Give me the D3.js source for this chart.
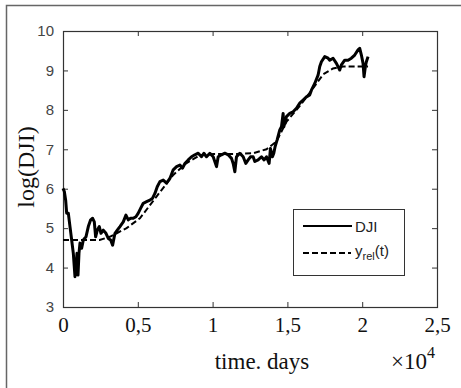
<!DOCTYPE html>
<html>
<head>
<meta charset="utf-8">
<script src="https://cdn.jsdelivr.net/npm/d3@7"></script>
<style>
  body { margin: 0; background: #fff; }
  svg { display: block; }
</style>
</head>
<body>
<svg id="chart" width="461" height="388"></svg>
<script>
// DJI log values (days, log value)
const djiDays = [0, 89, 178, 245, 356, 467, 579, 690, 801, 868, 935, 1002, 1068, 1135, 1247, 1358, 1536, 1692, 1848, 1981,
  2092, 2181, 2293, 2426, 2538, 2693, 2872, 3027, 3183, 3317, 3473, 3628, 3806, 4029, 4207, 4363, 4519, 4697, 4875, 5031,
  5187, 5365, 5587, 5810, 5988, 6144, 6300, 6478, 6700, 6923, 7146, 7368, 7591, 7813, 7991, 8147, 8370, 8592, 8815, 9038,
  9260, 9416, 9594, 9817, 10039, 10262, 10373, 10596, 10818, 11041, 11264, 11375, 11486, 11597, 11820, 12043, 12221, 12377, 12532, 12710,
  12822, 13044, 13267, 13445, 13601, 13779, 13868, 14002, 14091, 14180, 14313, 14491, 14603, 14714, 14759, 14937, 15159, 15382, 15605, 15827,
  16050, 16272, 16495, 16606, 16829, 17051, 17163, 17274, 17497, 17719, 17831, 18053, 18276, 18498, 18609, 18832, 19055, 19277, 19500, 19722,
  19834, 19945, 20057, 20123, 20212, 20279, 20391];
const djiValues = [6.01, 5.93, 5.71, 5.38, 5.38, 5.04, 4.70, 4.36, 3.77, 4.02, 4.36, 3.81, 4.36, 4.62, 4.49, 4.70, 4.78, 5.04, 5.21, 5.25,
  5.16, 4.78, 4.95, 5.04, 4.87, 4.95, 4.87, 4.74, 4.70, 4.57, 4.87, 4.95, 5.04, 5.16, 5.33, 5.21, 5.25, 5.25, 5.29, 5.38,
  5.50, 5.63, 5.67, 5.71, 5.76, 5.88, 6.05, 6.18, 6.22, 6.14, 6.26, 6.48, 6.56, 6.60, 6.52, 6.64, 6.73, 6.81, 6.86, 6.90,
  6.81, 6.90, 6.81, 6.90, 6.81, 6.56, 6.81, 6.86, 6.90, 6.86, 6.77, 6.64, 6.43, 6.81, 6.90, 6.81, 6.64, 6.73, 6.81, 6.81,
  6.69, 6.73, 6.81, 6.73, 6.81, 6.64, 7.02, 6.81, 6.90, 7.07, 7.24, 7.49, 7.57, 7.91, 7.57, 7.83, 7.91, 7.95, 8.04, 8.17,
  8.25, 8.33, 8.38, 8.50, 8.67, 8.88, 9.10, 9.22, 9.35, 9.31, 9.26, 9.31, 9.18, 9.01, 9.14, 9.26, 9.26, 9.31, 9.39, 9.52,
  9.56, 9.39, 9.18, 8.84, 9.10, 9.22, 9.35];

// y_rel(t) trend
const relDays = [0, 2450, 3130, 4250, 5140, 6250, 7370, 8260, 9150, 10040, 11380, 12710, 13600, 14270, 14940, 15830, 16720, 17390, 18050, 18720, 20390];
const relValues = [4.70, 4.70, 4.78, 5.0, 5.25, 5.8, 6.35, 6.65, 6.85, 6.88, 6.88, 6.9, 7.0, 7.2, 7.7, 8.1, 8.55, 8.9, 9.05, 9.1, 9.1];

const xTicks = [0, 5000, 10000, 15000, 20000, 25000];
const xTickLabels = ["0", "0,5", "1", "1,5", "2", "2,5"];
const yTicks = [3, 4, 5, 6, 7, 8, 9, 10];

const svg = d3.select("#chart");
const m = { left: 63, right: 437, top: 31, bottom: 307 };

// outer frame (only top and left edges visible)
svg.append("path")
  .attr("d", "M6.5,388 V5.5 H461")
  .attr("fill", "none")
  .attr("stroke", "#666")
  .attr("stroke-width", 1.5);

const x = d3.scaleLinear().domain([0, 25000]).range([m.left, m.right]);
const y = d3.scaleLinear().domain([3, 10]).range([m.bottom, m.top]);

const axisColor = "#333";
const tick = 5;

// bottom axis with inward ticks
const gx = svg.append("g").attr("transform", `translate(0,${m.bottom})`)
  .call(d3.axisBottom(x).tickValues(xTicks).tickSize(-tick).tickPadding(10)
    .tickFormat((d, i) => xTickLabels[i]));
gx.select(".domain").remove();
gx.selectAll("line").attr("stroke", axisColor);
gx.selectAll("text")
  .attr("font-family", "'Liberation Serif', 'Times New Roman', serif")
  .attr("font-size", 21)
  .attr("fill", "#111")
  .attr("dy", "0.72em");

// top axis ticks
const gxt = svg.append("g").attr("transform", `translate(0,${m.top})`)
  .call(d3.axisTop(x).tickValues(xTicks).tickSize(-tick).tickFormat(""));
gxt.select(".domain").remove();
gxt.selectAll("line").attr("stroke", axisColor);

// left axis
const gy = svg.append("g").attr("transform", `translate(${m.left},0)`)
  .call(d3.axisLeft(y).tickValues(yTicks).tickSize(-tick).tickPadding(9)
    .tickFormat(d3.format("d")));
gy.select(".domain").remove();
gy.selectAll("line").attr("stroke", axisColor);
gy.selectAll("text")
  .attr("font-family", "'Liberation Sans', Arial, sans-serif")
  .attr("font-size", 15)
  .attr("fill", "#444");

// right axis ticks
const gyr = svg.append("g").attr("transform", `translate(${m.right},0)`)
  .call(d3.axisRight(y).tickValues(yTicks).tickSize(-tick).tickFormat(""));
gyr.select(".domain").remove();
gyr.selectAll("line").attr("stroke", axisColor);

// plot box
svg.append("rect")
  .attr("x", m.left + 0.5).attr("y", m.top + 0.5)
  .attr("width", m.right - m.left).attr("height", m.bottom - m.top)
  .attr("fill", "none")
  .attr("stroke", axisColor)
  .attr("stroke-width", 1.2);

const line = d3.line().x(d => x(d[0])).y(d => y(d[1]));

svg.append("path")
  .datum(relDays.map((d, i) => [d, relValues[i]]))
  .attr("d", line)
  .attr("fill", "none")
  .attr("stroke", "#000")
  .attr("stroke-width", 2)
  .attr("stroke-dasharray", "6,3");

svg.append("path")
  .datum(djiDays.map((d, i) => [d, djiValues[i]]))
  .attr("d", line)
  .attr("fill", "none")
  .attr("stroke", "#000")
  .attr("stroke-width", 3)
  .attr("stroke-linejoin", "round");

// legend
const lg = svg.append("g");
lg.append("rect")
  .attr("x", 293.5).attr("y", 209.5)
  .attr("width", 111).attr("height", 66)
  .attr("fill", "#fff")
  .attr("stroke", axisColor);
lg.append("line")
  .attr("x1", 303).attr("x2", 352).attr("y1", 226).attr("y2", 226)
  .attr("stroke", "#000").attr("stroke-width", 2.2);
lg.append("line")
  .attr("x1", 303).attr("x2", 351).attr("y1", 253).attr("y2", 253)
  .attr("stroke", "#000").attr("stroke-width", 2).attr("stroke-dasharray", "6,3");
lg.append("text")
  .attr("x", 355).attr("y", 232)
  .attr("font-family", "'Liberation Sans', Arial, sans-serif")
  .attr("font-size", 15).attr("fill", "#222")
  .text("DJI");
const rel = lg.append("text")
  .attr("x", 355).attr("y", 256)
  .attr("font-family", "'Liberation Sans', Arial, sans-serif")
  .attr("font-size", 15).attr("fill", "#222");
rel.append("tspan").text("y");
rel.append("tspan").attr("font-size", 11).attr("dy", 4).text("rel");
rel.append("tspan").attr("dy", -4).text("(t)");

// axis titles
svg.append("text")
  .attr("transform", "translate(34,167) rotate(-90)")
  .attr("text-anchor", "middle")
  .attr("font-family", "'Liberation Serif', 'Times New Roman', serif")
  .attr("font-size", 24).attr("fill", "#111")
  .text("log(DJI)");

svg.append("text")
  .attr("x", 262).attr("y", 369)
  .attr("text-anchor", "middle")
  .attr("font-family", "'Liberation Serif', 'Times New Roman', serif")
  .attr("font-size", 23).attr("fill", "#111")
  .text("time. days");

const mult = svg.append("text")
  .attr("x", 391).attr("y", 369)
  .attr("font-family", "'Liberation Serif', 'Times New Roman', serif")
  .attr("font-size", 23).attr("fill", "#111");
mult.append("tspan").text("\u00d710");
mult.append("tspan").attr("font-size", 16).attr("dy", -11).text("4");
</script>
</body>
</html>
